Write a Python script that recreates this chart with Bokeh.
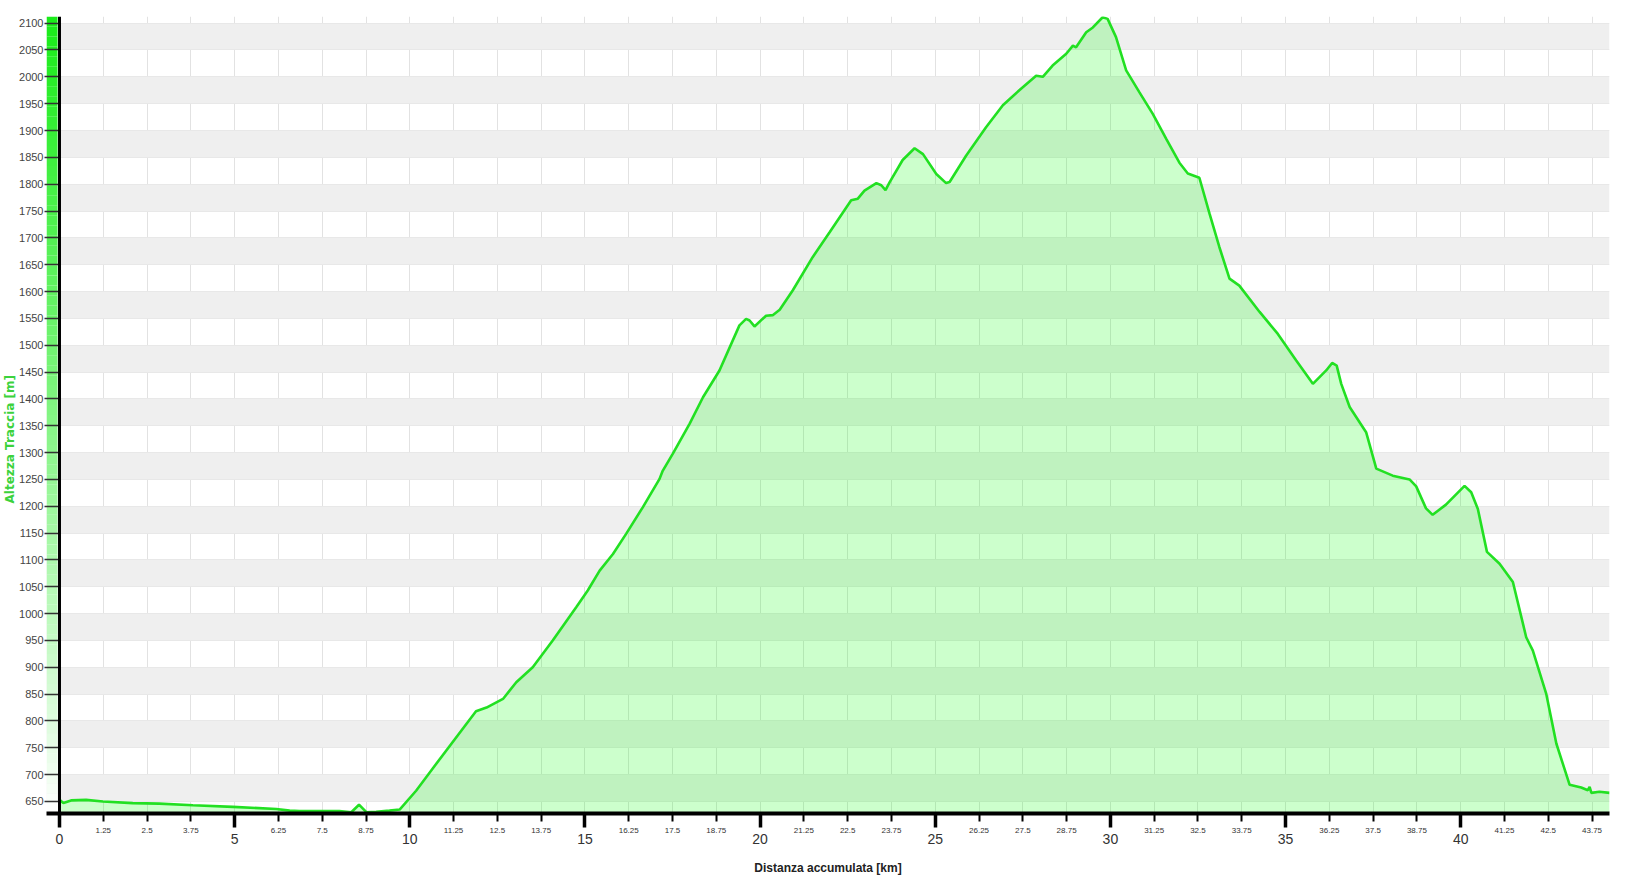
from bokeh.plotting import figure
from bokeh.models import Range1d, FixedTicker, LinearAxis, Span, Title, Grid
from bokeh.embed import file_html
from bokeh.resources import INLINE

# ---- data (distance km, elevation m) ----
km = [0.00, 0.11, 0.33, 0.76, 1.24, 2.09, 2.85, 3.81, 4.95, 6.19, 6.57, 6.85, 7.99, 8.33,
      8.55, 8.76, 9.04, 9.42, 9.71, 10.18, 10.66, 11.89, 12.19, 12.66, 13.04, 13.51, 14.08,
      14.75, 15.08, 15.42, 15.80, 16.18, 16.65, 17.13, 17.22, 17.51, 17.99, 18.37, 18.84,
      19.41, 19.60, 19.70, 19.84, 20.17, 20.36, 20.56, 20.93, 21.50, 21.98, 22.60, 22.79,
      22.98, 23.32, 23.46, 23.58, 23.70, 24.07, 24.41, 24.65, 25.03, 25.31, 25.41, 25.88,
      26.45, 26.93, 27.40, 27.88, 28.07, 28.35, 28.74, 28.93, 29.02, 29.31, 29.50, 29.78,
      29.92, 30.16, 30.45, 30.83, 31.21, 31.59, 31.97, 32.21, 32.54, 32.83, 33.11, 33.40,
      33.68, 34.26, 34.78, 35.30, 35.78, 36.16, 36.33, 36.46, 36.59, 36.83, 37.30, 37.59,
      38.06, 38.54, 38.73, 39.01, 39.20, 39.58, 40.11, 40.30, 40.49, 40.75, 41.11, 41.49,
      41.87, 42.06, 42.44, 42.73, 43.11, 43.44, 43.63, 43.68, 43.73, 43.96, 44.25]
elev = [653, 647, 652, 653, 650, 647, 646, 643, 640, 636, 633, 632, 632, 630,
        644, 630, 631, 633, 635, 670, 712, 818, 825, 841, 872, 900, 950,
        1012, 1043, 1080, 1111, 1149, 1198, 1251, 1266, 1298, 1354, 1403, 1453,
        1537, 1549, 1546, 1535, 1555, 1556, 1566, 1602, 1664, 1710, 1770, 1773,
        1788, 1802, 1798, 1789, 1804, 1845, 1867, 1856, 1819, 1802, 1804, 1853,
        1906, 1947, 1975, 2002, 2000, 2021, 2043, 2058, 2055, 2083, 2092, 2111,
        2108, 2074, 2012, 1971, 1931, 1885, 1840, 1820, 1812, 1745, 1683, 1624,
        1611, 1562, 1521, 1472, 1428, 1453, 1467, 1462, 1428, 1385, 1338, 1270,
        1257, 1250, 1237, 1196, 1184, 1203, 1238, 1226, 1195, 1115, 1093, 1059,
        956, 931, 851, 758, 681, 676, 671, 677, 666, 668, 666]

y_ticks = list(range(650, 2101, 50))
x_small_ticks = [i * 1.25 for i in range(36) if i % 4 != 0]
x_small_labels = {t: ("%g" % t) for t in x_small_ticks}
x_big_ticks = [i * 5 for i in range(9)]
x_grid_ticks = [i * 1.25 for i in range(36)]
band_ticks = list(range(550, 2201, 50))

X0, X1 = -0.371, 44.248
Y0, Y1 = 627.6, 2112.4
BAR_RIGHT = -0.057

p = figure(frame_width=1563, frame_height=797,
           x_range=Range1d(X0, X1), y_range=Range1d(Y0, Y1),
           x_axis_type=None, y_axis_type=None,
           output_backend="svg", toolbar_location=None,
           min_border_left=39, min_border_top=16, min_border_right=22,
           min_border_bottom=60,
           outline_line_color=None, background_fill_color="white",
           border_fill_color="white")

# grids
p.add_layout(Grid(dimension=0, ticker=FixedTicker(ticks=x_grid_ticks),
                  grid_line_color="#e2e2e2", grid_line_width=1))
p.add_layout(Grid(dimension=1, ticker=FixedTicker(ticks=band_ticks),
                  grid_line_color="#e8e8e8", grid_line_width=1,
                  band_fill_color="#efefef", band_fill_alpha=1.0))

# area + line
p.varea(x=km, y1=Y0, y2=elev, fill_color="#00ff00", fill_alpha=0.2)
p.line(x=km, y=elev, line_color="#22e022", line_width=2.6)

# gradient colour bar at the left
n = 80
bottoms, tops, cols = [], [], []
for i in range(n):
    b = Y0 + (Y1 - Y0) * i / n
    t = Y0 + (Y1 - Y0) * (i + 1) / n
    f = ((i + 0.5) / n) ** 0.9
    r = int(round(255 * (1 - f) + 25 * f))
    g = int(round(255 * (1 - f) + 236 * f))
    bb = int(round(255 * (1 - f) + 25 * f))
    bottoms.append(b); tops.append(t); cols.append("#%02x%02x%02x" % (r, g, bb))
p.quad(left=X0, right=BAR_RIGHT, bottom=bottoms, top=tops, fill_color=cols, line_color=None)

p.add_layout(Span(location=0, dimension="height", line_color="black", line_width=3))

# y axis
yax = LinearAxis(ticker=FixedTicker(ticks=y_ticks),
                 axis_line_color=None,
                 major_tick_in=13, major_tick_out=2,
                 major_tick_line_color="#333333", major_tick_line_width=1.5,
                 minor_tick_in=0, minor_tick_out=0,
                 major_label_standoff=1,
                 major_label_text_font="Liberation Sans",
                 major_label_text_font_size="11px",
                 major_label_text_color="#444444")
p.add_layout(yax, "left")

yt = Title(text="Altezza Traccia [m]", align="left", offset=310,
           text_color="#3cd23c", text_font="DejaVu Sans",
           text_font_size="12px", text_font_style="bold")
if "standoff" in Title.properties():
    yt.standoff = 0
p.add_layout(yt, "left")

# x axis: small labels + ticks
xax1 = LinearAxis(ticker=FixedTicker(ticks=x_small_ticks, minor_ticks=x_big_ticks),
                  axis_line_color="black", axis_line_width=4,
                  major_tick_in=0, major_tick_out=8,
                  major_tick_line_color="black", major_tick_line_width=2,
                  minor_tick_in=0, minor_tick_out=14,
                  minor_tick_line_color="black", minor_tick_line_width=3.5,
                  major_label_standoff=0,
                  major_label_overrides=x_small_labels,
                  major_label_text_font="Liberation Sans",
                  major_label_text_font_size="8px",
                  major_label_text_color="#333333")
p.add_layout(xax1, "below")

# x axis: big labels + title
xax2 = LinearAxis(ticker=FixedTicker(ticks=x_big_ticks),
                  axis_line_color=None,
                  major_tick_in=0, major_tick_out=0,
                  minor_tick_in=0, minor_tick_out=0,
                  major_label_standoff=-2,
                  major_label_text_font="Liberation Sans",
                  major_label_text_font_size="14px",
                  major_label_text_color="#333333",
                  axis_label="Distanza accumulata [km]",
                  axis_label_standoff=14,
                  axis_label_text_font="Liberation Sans",
                  axis_label_text_font_size="12px",
                  axis_label_text_font_style="bold",
                  axis_label_text_color="#222222")
p.add_layout(xax2, "below")

open("out.html", "w").write(file_html(p, INLINE))
